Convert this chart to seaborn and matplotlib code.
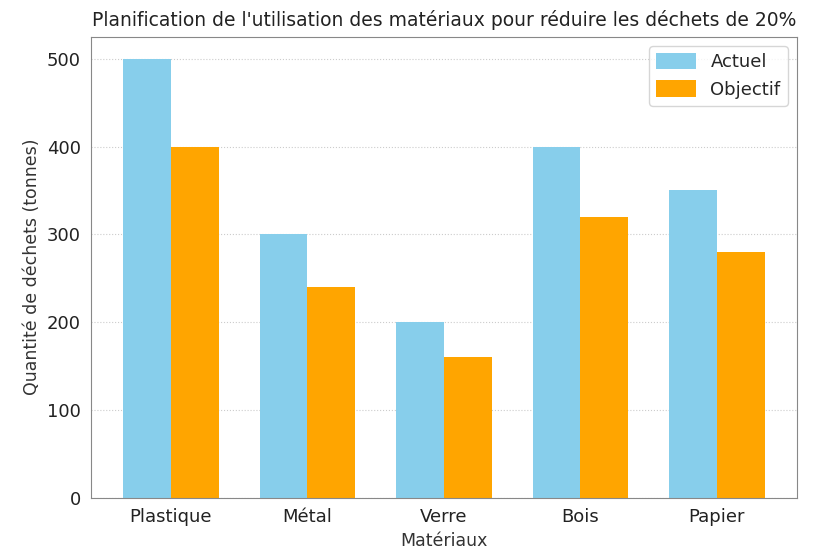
import pandas as pd
import matplotlib.pyplot as plt
import seaborn as sns

materiaux = ["Plastique", "Métal", "Verre", "Bois", "Papier"]
actuel = [500, 300, 200, 400, 350]
objectif = [400, 240, 160, 320, 280]

df = pd.DataFrame({
    "Matériaux": materiaux * 2,
    "Quantité": actuel + objectif,
    "Série": ["Actuel"] * len(materiaux) + ["Objectif"] * len(materiaux),
})

sns.set_style("white")
plt.rcParams["font.family"] = ["DejaVu Sans"]

fig, ax = plt.subplots(figsize=(8.13, 5.51), dpi=100)
sns.barplot(data=df, x="Matériaux", y="Quantité", hue="Série",
            palette={"Actuel": "skyblue", "Objectif": "orange"},
            width=0.7, saturation=1, linewidth=0, ax=ax)

ax.set_xlim(-0.585, len(materiaux) - 1 + 0.585)
ax.set_ylim(0, 525)
ax.yaxis.grid(True, linestyle=":", color="#cccccc", linewidth=0.8)
ax.set_axisbelow(True)
for s in ax.spines.values():
    s.set_color("#888888")
ax.tick_params(axis="both", labelsize=13, length=4, color="#888888", labelcolor="#222222")
ax.set_title("Planification de l'utilisation des matériaux pour réduire les déchets de 20%",
             fontsize=13.5, color="#222222", pad=8)
ax.set_xlabel("Matériaux", fontsize=12.5, color="#333333")
ax.set_ylabel("Quantité de déchets (tonnes)", fontsize=12.5, color="#333333")
ax.legend(title=None, loc="upper right", fontsize=13, handlelength=2.2, handleheight=1.0)

plt.subplots_adjust(left=0.112, right=0.98, top=0.933, bottom=0.097)
fig.savefig("out.png")
